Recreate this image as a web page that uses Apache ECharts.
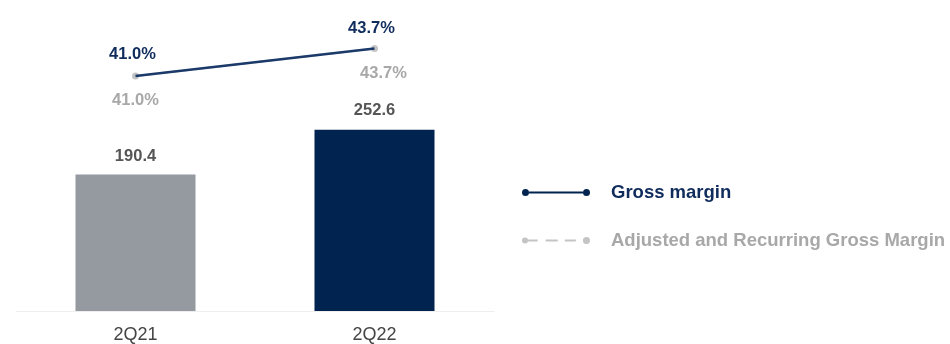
<!DOCTYPE html>
<html>
<head>
<meta charset="utf-8">
<script src="https://cdn.jsdelivr.net/npm/echarts@6/dist/echarts.min.js"></script>
<style>
  html, body { margin: 0; padding: 0; background: #fff; }
  #chart { width: 950px; height: 344px; }
</style>
</head>
<body>
<div id="chart"></div>
<script>
// Quarterly gross profit with gross margin lines
const quarters = ['2Q21', '2Q22'];
const grossProfit = [190.4, 252.6];
const grossMargin = [41.0, 43.7];
const adjustedMargin = [41.0, 43.7];
const seriesNames = ['Gross margin', 'Adjusted and Recurring Gross Margin'];

const NAVY = '#00234f';
const NAVY_TEXT = '#0f2c5c';
const LINE_NAVY = '#1b3a6a';
const GREY_BAR = '#949a9f';
const GREY_TEXT = '#a8a8a8';
const GREY_DOT = '#c4c4c4';
const FONT = '"Liberation Sans", Arial, sans-serif';

// legend glyphs: line with a dot at each end
const solidIcon = 'path://M0,5a3.5,3.5 0 1,0 7,0a3.5,3.5 0 1,0 -7,0z' +
  'M7,4.1h54v1.8h-54z' +
  'M61,5a3.5,3.5 0 1,0 7,0a3.5,3.5 0 1,0 -7,0z';
const dashedIcon = 'path://M0.5,5a3,3 0 1,0 6,0a3,3 0 1,0 -6,0z' +
  'M6.5,4.1h9.5v1.8h-9.5z' +
  'M24,4.1h12v1.8h-12z' +
  'M43,4.1h11v1.8h-11z' +
  'M61,5a3.5,3.5 0 1,0 7,0a3.5,3.5 0 1,0 -7,0z';

const chart = echarts.init(document.getElementById('chart'), null, { renderer: 'canvas' });

chart.setOption({
  animation: false,
  backgroundColor: '#ffffff',
  textStyle: { fontFamily: FONT },
  grid: { left: 16, right: 456, top: 24, bottom: 29 },
  legend: {
    orient: 'vertical',
    left: 522,
    top: 183,
    padding: 0,
    itemWidth: 68,
    itemHeight: 10,
    itemGap: 29,
    selectedMode: false,
    data: [
      { name: seriesNames[0], icon: solidIcon, itemStyle: { color: NAVY },
        textStyle: { color: NAVY_TEXT } },
      { name: seriesNames[1], icon: dashedIcon, itemStyle: { color: GREY_DOT },
        textStyle: { color: GREY_TEXT } }
    ],
    textStyle: {
      fontFamily: FONT, fontSize: 18.5, fontWeight: 'bold',
      padding: [0, 0, 0, 16]
    }
  },
  xAxis: {
    type: 'category',
    data: quarters,
    axisLine: { show: true, lineStyle: { color: '#eeeeee', width: 1 } },
    axisTick: { show: false },
    axisLabel: { color: '#444444', fontSize: 18, margin: 15, fontFamily: FONT }
  },
  yAxis: [
    { type: 'value', min: 0, max: 400, show: false, splitLine: { show: false } },
    { type: 'value', min: 18, max: 46.1, show: false, splitLine: { show: false } }
  ],
  series: [
    {
      name: 'Gross profit',
      type: 'bar',
      yAxisIndex: 0,
      barWidth: 120,
      data: grossProfit.map((v, i) => ({
        value: v,
        itemStyle: { color: i === 0 ? GREY_BAR : NAVY },
        label: { distance: i === 0 ? 9 : 11 }
      })),
      label: {
        show: true, position: 'top',
        color: '#555555', fontSize: 16.5, fontWeight: 'bold', fontFamily: FONT,
        formatter: p => p.value.toFixed(1)
      }
    },
    {
      name: seriesNames[1],
      type: 'line',
      yAxisIndex: 1,
      z: 3,
      symbol: 'circle',
      symbolSize: 7,
      itemStyle: { color: GREY_DOT },
      lineStyle: { color: GREY_DOT, width: 2, type: 'dashed' },
      data: adjustedMargin.map((v, i) => ({
        value: v,
        label: { offset: i === 0 ? [0, 0] : [9, 0] }
      })),
      label: {
        show: true, position: 'bottom', distance: 12.5,
        color: GREY_TEXT, fontSize: 16.5, fontWeight: 'bold', fontFamily: FONT,
        formatter: p => p.value.toFixed(1) + '%'
      }
    },
    {
      name: seriesNames[0],
      type: 'line',
      yAxisIndex: 1,
      z: 4,
      symbol: 'circle',
      symbolSize: 0,
      itemStyle: { color: NAVY },
      lineStyle: { color: LINE_NAVY, width: 2.5 },
      data: grossMargin.map((v, i) => ({
        value: v,
        label: { offset: [-3, 0], distance: i === 0 ? 13 : 12 }
      })),
      label: {
        show: true, position: 'top',
        color: NAVY_TEXT, fontSize: 16.5, fontWeight: 'bold', fontFamily: FONT,
        formatter: p => p.value.toFixed(1) + '%'
      }
    }
  ]
});
</script>
</body>
</html>
